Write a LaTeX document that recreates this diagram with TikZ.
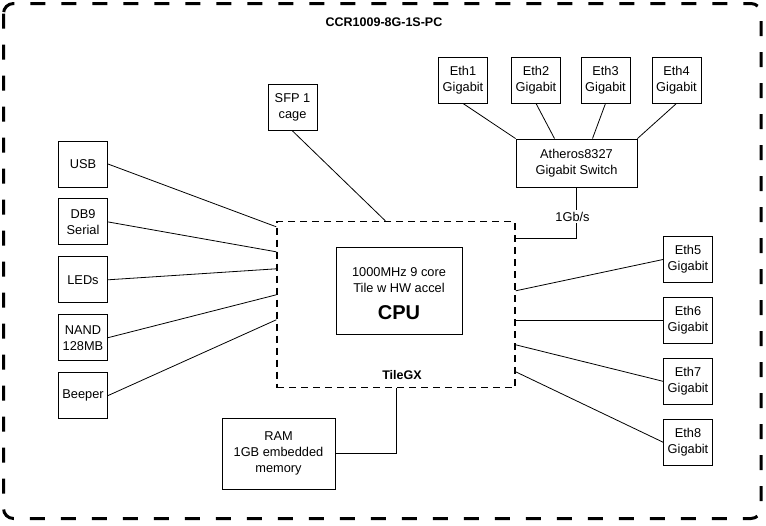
\documentclass[tikz,border=0pt]{standalone}
\usepackage{fontspec}
\setmainfont{Liberation Sans}
\usetikzlibrary{positioning, calc}

\begin{document}
\begin{tikzpicture}[
        x=1pt, y=-1pt,
        font=\fontsize{12.8}{16}\selectfont,
        box/.style={
            rectangle,
            draw=black,
            line width=0.9pt,
            fill=white,
            align=center,
            inner sep=1pt,
            minimum width=49pt,
            minimum height=46pt
        },
        tilebox/.style={
            rectangle,
            draw=black,
            line width=1.4pt,
            dash pattern=on 7pt off 5pt,
            minimum width=238pt,
            minimum height=166pt
        },
        board/.style={
            draw=black,
            line width=3pt,
            dash pattern=on 15pt off 16pt,
            rounded corners=10pt
        },
        heading/.style={font=\fontsize{12.5}{16}\selectfont\bfseries},
        link/.style={line width=0.8pt, draw=black}
    ]
        \useasboundingbox (0,0) rectangle (766,525);
        \draw[board] (3.5,3.5) rectangle (761,518.5);
        \node[heading] (title) at (384,22) {CCR1009-8G-1S-PC};

        % processor
        \node[tilebox] (tile) at (396,304.5) {};
        \node[box, minimum width=126pt, minimum height=87pt] (cpu) at (399,290.5) {};
        \node[align=center] (cputext) at ([yshift=-3.5pt]cpu.center)
            {1000MHz 9 core\\Tile w HW accel\\[11pt]{\fontsize{20}{22}\selectfont\bfseries CPU}};
        \node[heading] (tilegx) at (402,375) {TileGX};

        % left side
        \node[box] (usb) at (83,164) {USB};
        \node[box, below=11pt of usb] (db9) {DB9\\Serial};
        \node[box, below=11pt of db9] (leds) {LEDs};
        \node[box, below=11pt of leds] (nand) {NAND\\128MB};
        \node[box, below=11pt of nand] (beeper) {Beeper};

        \node[box] (sfp) at (292.5,107.5) {SFP 1\\cage};
        \node[box, minimum width=113pt, minimum height=71pt] (ram) at (278.5,453.5)
            {RAM\\1GB embedded\\memory};

        % switch and its ports
        \node[box] (eth1) at (463,80) {Eth1\\Gigabit};
        \node[box] (eth2) at (536,80) {Eth2\\Gigabit};
        \node[box] (eth3) at (605.5,80) {Eth3\\Gigabit};
        \node[box] (eth4) at (676.5,80) {Eth4\\Gigabit};
        \node[box, minimum width=121pt, minimum height=48pt] (switch) at (576.5,163)
            {Atheros8327\\Gigabit Switch};

        % right side
        \node[box] (eth5) at (688,259.5) {Eth5\\Gigabit};
        \node[box, below=14pt of eth5] (eth6) {Eth6\\Gigabit};
        \node[box, below=14pt of eth6] (eth7) {Eth7\\Gigabit};
        \node[box, below=14pt of eth7] (eth8) {Eth8\\Gigabit};

        \draw[link] (usb.east) -- ([yshift=-6pt]tile.north west);
        \draw[link] (db9.east) -- ([yshift=-31pt]tile.north west);
        \draw[link] (leds.east) -- ([yshift=-48pt]tile.north west);
        \draw[link] (nand.east) -- ([yshift=-74pt]tile.north west);
        \draw[link] (beeper.east) -- ([yshift=-99pt]tile.north west);
        \draw[link] (sfp.south) -- ([xshift=109pt]tile.north west);
        \draw[link] (ram.east) -| ([xshift=120pt]tile.south west);

        \draw[link] (eth1.south) -- (switch.north west);
        \draw[link] (eth2.south) -- ([xshift=-22pt]switch.north);
        \draw[link] (eth3.south) -- ([xshift=16pt]switch.north);
        \draw[link] (eth4.south) -- (switch.north east);
        \draw[link] (switch.south) |- ([yshift=-18pt]tile.north east)
            node[pos=0.283, fill=white, inner sep=1.5pt, xshift=-4pt] (gbps) {1Gb/s};

        \draw[link] ([yshift=-70pt]tile.north east) -- (eth5.west);
        \draw[link] (tile.east |- eth6.west) -- (eth6.west);
        \draw[link] ([yshift=-124pt]tile.north east) -- (eth7.west);
        \draw[link] ([yshift=-151pt]tile.north east) -- (eth8.west);
    \end{tikzpicture}
\end{document}
